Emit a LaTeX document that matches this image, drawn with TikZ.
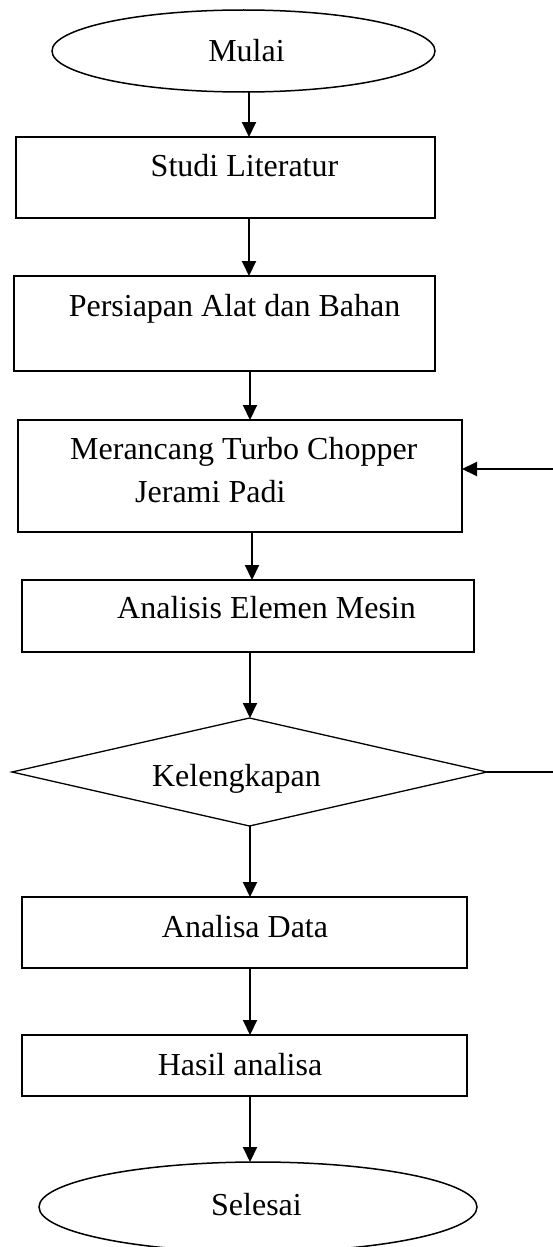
\documentclass[tikz,border=0pt]{standalone}
\usepackage{fontspec}
\setmainfont{Liberation Serif}
\usetikzlibrary{shapes.geometric,arrows.meta}
\begin{document}
\begin{tikzpicture}[x=1pt,y=-1pt,
  box/.style={draw,line width=1.3pt,rectangle,inner sep=0pt,outer sep=0pt},
  oval/.style={draw,line width=1.5pt,ellipse,inner sep=0pt,outer sep=0pt},
  decision/.style={draw,line width=1.3pt,diamond,inner sep=0pt,outer sep=0pt},
  lbl/.style={anchor=base,inner sep=0pt,font=\fontsize{32}{43}\selectfont},
  arr/.style={line width=2pt,-{Triangle[length=15pt,width=14pt]}},
  plain/.style={line width=1.3pt}]
\useasboundingbox (0,0) rectangle (552,1247);
\fill[white] (0,0) rectangle (552,1247);
\coordinate (axis) at (250,0);
% shapes
\node[oval,minimum width=383pt,minimum height=82pt] (mulai) at (243.5,51) {};
\node[box,minimum width=419pt,minimum height=81pt] (studi) at (225.5,177.5) {};
\node[box,minimum width=421pt,minimum height=95pt] (persiapan) at (224.5,323.5) {};
\node[box,minimum width=444pt,minimum height=112pt] (merancang) at (240,476) {};
\node[box,minimum width=452pt,minimum height=72pt] (analisis) at (248,616) {};
\node[decision,minimum width=475pt,minimum height=108pt] (dec) at (249.5,772) {};
\node[box,minimum width=445pt,minimum height=71pt] (data) at (244.5,932.5) {};
\node[box,minimum width=445pt,minimum height=61pt] (hasil) at (244.5,1065.5) {};
\node[oval,minimum width=438pt,minimum height=90pt] (selesai) at (258,1207) {};
% texts
\node[lbl] (tmulai) at (246.5,62) {Mulai};
\node[lbl] (tstudi) at (244.5,176) {Studi Literatur};
\node[lbl] (tpersiapan) at (234.5,316) {Persiapan Alat dan Bahan};
\node[lbl,anchor=base west] (tmer1) at (70,459) {Merancang Turbo Chopper};
\node[lbl,anchor=base west] (tmer2) at (135,502) {Jerami Padi};
\node[lbl] (tanalisis) at (266.5,618) {Analisis Elemen Mesin};
\node[lbl] (tdec) at (236.5,786) {Kelengkapan};
\node[lbl] (tdata) at (245,937) {Analisa Data};
\node[lbl] (thasil) at (240,1075) {Hasil analisa};
\node[lbl] (tselesai) at (256.5,1215) {Selesai};
% connectors
\draw[arr] ([xshift=-1pt]mulai.south -| axis) -- ([xshift=-1pt]studi.north -| axis);
\draw[arr] ([xshift=-1pt]studi.south -| axis) -- ([xshift=-1pt]persiapan.north -| axis);
\draw[arr] (persiapan.south -| axis) -- (merancang.north -| axis);
\draw[arr] ([xshift=2pt]merancang.south -| axis) -- ([xshift=2pt]analisis.north -| axis);
\draw[arr] (analisis.south -| axis) -- (dec.north -| axis);
\draw[arr] (dec.south -| axis) -- (data.north -| axis);
\draw[arr] (data.south -| axis) -- (hasil.north -| axis);
\draw[arr] (hasil.south -| axis) -- (selesai.north -| axis);
\coordinate (loopB) at (557,772);
\coordinate (loopT) at (557,469);
\draw[plain] (dec.east) -- (loopB) -- (loopT);
\draw[arr] (loopT) -- (loopT -| merancang.east);
\end{tikzpicture}
\end{document}
